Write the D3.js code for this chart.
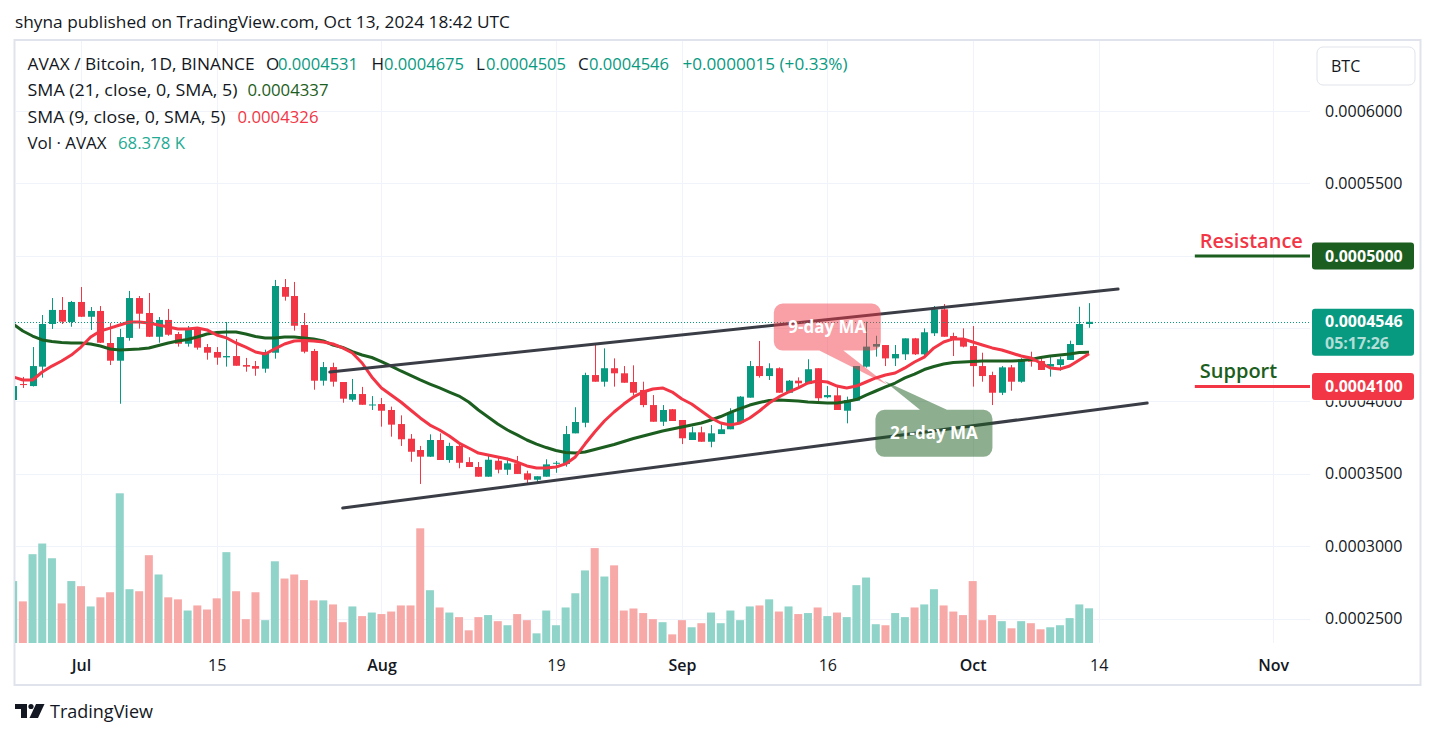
<!DOCTYPE html>
<html><head><meta charset="utf-8">
<script src="https://cdn.jsdelivr.net/npm/d3@7"></script>
<style>
body{margin:0;background:#fff;}
svg{display:block;font-family:"Open Sans",Roboto,sans-serif;}
</style>
</head><body>
<svg id="chart" width="1437" height="738"></svg>
<script>
// ---------- DATA (AVAX / BTC, 1D, BINANCE) ----------
const firstDay = "2024-06-24";
const lastDay = "2024-10-13";
const openPrices = [
4.007e-4,4.117e-4,4.103e-4,4.237e-4,4.531e-4,4.628e-4,4.545e-4,
4.683e-4,4.581e-4,4.621e-4,4.400e-4,4.278e-4,4.435e-4,4.710e-4,4.607e-4,4.443e-4,4.559e-4,4.462e-4,4.395e-4,4.497e-4,4.372e-4,4.338e-4,4.301e-4,4.310e-4,4.248e-4,4.241e-4,4.223e-4,4.333e-4,4.786e-4,4.724e-4,4.524e-4,4.345e-4,4.140e-4,4.234e-4,4.131e-4,4.009e-4,4.048e-4,3.970e-4,
3.979e-4,3.938e-4,3.841e-4,3.740e-4,3.662e-4,3.616e-4,3.731e-4,3.593e-4,3.690e-4,3.579e-4,3.545e-4,3.478e-4,3.588e-4,3.526e-4,3.570e-4,3.501e-4,3.457e-4,3.478e-4,3.568e-4,3.566e-4,3.777e-4,3.850e-4,4.179e-4,4.133e-4,4.226e-4,4.191e-4,4.131e-4,4.076e-4,3.972e-4,3.857e-4,3.943e-4,
3.869e-4,3.731e-4,3.784e-4,3.719e-4,3.772e-4,3.805e-4,3.850e-4,4.023e-4,4.241e-4,4.172e-4,4.226e-4,4.057e-4,4.140e-4,4.117e-4,4.226e-4,4.026e-4,4.039e-4,3.933e-4,4.002e-4,4.237e-4,4.375e-4,4.386e-4,4.294e-4,4.322e-4,4.432e-4,4.322e-4,4.467e-4,4.632e-4,4.448e-4,4.426e-4,
4.379e-4,4.241e-4,4.179e-4,4.057e-4,4.232e-4,4.133e-4,4.288e-4,4.276e-4,4.237e-4,4.248e-4,4.283e-4,4.386e-4,4.531e-4];
const highPrices = [
4.117e-4,4.166e-4,4.372e-4,4.593e-4,4.710e-4,4.717e-4,4.690e-4,
4.786e-4,4.648e-4,4.655e-4,4.538e-4,4.497e-4,4.759e-4,4.724e-4,4.745e-4,4.579e-4,4.635e-4,4.476e-4,4.517e-4,4.510e-4,4.393e-4,4.372e-4,4.545e-4,4.428e-4,4.297e-4,4.276e-4,4.354e-4,4.835e-4,4.841e-4,4.821e-4,4.607e-4,4.359e-4,4.269e-4,4.264e-4,4.131e-4,4.152e-4,4.097e-4,4.034e-4,
4.021e-4,3.961e-4,3.901e-4,3.772e-4,3.690e-4,3.770e-4,3.777e-4,3.712e-4,3.708e-4,3.612e-4,3.579e-4,3.634e-4,3.609e-4,3.609e-4,3.621e-4,3.519e-4,3.481e-4,3.598e-4,3.586e-4,3.828e-4,3.957e-4,4.195e-4,4.393e-4,4.363e-4,4.294e-4,4.241e-4,4.246e-4,4.133e-4,4.041e-4,3.972e-4,3.945e-4,
3.869e-4,3.823e-4,3.823e-4,3.834e-4,3.850e-4,3.950e-4,4.034e-4,4.276e-4,4.414e-4,4.260e-4,4.232e-4,4.145e-4,4.163e-4,4.288e-4,4.226e-4,4.103e-4,4.099e-4,4.030e-4,4.241e-4,4.547e-4,4.450e-4,4.386e-4,4.386e-4,4.432e-4,4.435e-4,4.501e-4,4.655e-4,4.669e-4,4.471e-4,4.501e-4,
4.517e-4,4.333e-4,4.202e-4,4.241e-4,4.248e-4,4.295e-4,4.340e-4,4.306e-4,4.306e-4,4.306e-4,4.416e-4,4.650e-4,4.675e-4];
const lowPrices = [
3.966e-4,4.090e-4,4.100e-4,4.161e-4,4.497e-4,4.531e-4,4.512e-4,
4.579e-4,4.490e-4,4.400e-4,4.248e-4,3.981e-4,4.416e-4,4.499e-4,4.441e-4,4.402e-4,4.450e-4,4.375e-4,4.375e-4,4.354e-4,4.285e-4,4.250e-4,4.237e-4,4.243e-4,4.202e-4,4.174e-4,4.195e-4,4.292e-4,4.692e-4,4.485e-4,4.329e-4,4.078e-4,4.106e-4,4.099e-4,3.988e-4,3.995e-4,3.974e-4,3.938e-4,
3.823e-4,3.754e-4,3.690e-4,3.581e-4,3.428e-4,3.614e-4,3.593e-4,3.574e-4,3.536e-4,3.545e-4,3.478e-4,3.478e-4,3.501e-4,3.490e-4,3.497e-4,3.421e-4,3.443e-4,3.478e-4,3.505e-4,3.547e-4,3.777e-4,3.819e-4,4.133e-4,4.099e-4,4.099e-4,4.126e-4,4.041e-4,3.957e-4,3.857e-4,3.828e-4,3.862e-4,
3.703e-4,3.731e-4,3.719e-4,3.681e-4,3.772e-4,3.805e-4,3.850e-4,4.023e-4,4.161e-4,4.145e-4,4.057e-4,4.057e-4,4.094e-4,4.117e-4,3.995e-4,4.019e-4,3.938e-4,3.846e-4,4.002e-4,4.230e-4,4.306e-4,4.241e-4,4.241e-4,4.283e-4,4.317e-4,4.306e-4,4.448e-4,4.443e-4,4.310e-4,4.370e-4,
4.099e-4,4.133e-4,3.972e-4,4.041e-4,4.071e-4,4.126e-4,4.237e-4,4.214e-4,4.168e-4,4.209e-4,4.283e-4,4.386e-4,4.505e-4];
const closePrices = [
4.103e-4,4.110e-4,4.241e-4,4.531e-4,4.628e-4,4.547e-4,4.683e-4,
4.581e-4,4.621e-4,4.402e-4,4.278e-4,4.441e-4,4.710e-4,4.602e-4,4.443e-4,4.559e-4,4.457e-4,4.395e-4,4.490e-4,4.368e-4,4.333e-4,4.299e-4,4.310e-4,4.243e-4,4.237e-4,4.223e-4,4.338e-4,4.793e-4,4.719e-4,4.519e-4,4.340e-4,4.140e-4,4.234e-4,4.133e-4,4.016e-4,4.048e-4,3.974e-4,3.976e-4,
3.933e-4,3.837e-4,3.736e-4,3.650e-4,3.616e-4,3.731e-4,3.593e-4,3.690e-4,3.574e-4,3.545e-4,3.478e-4,3.595e-4,3.526e-4,3.570e-4,3.497e-4,3.457e-4,3.481e-4,3.563e-4,3.574e-4,3.772e-4,3.855e-4,4.179e-4,4.133e-4,4.226e-4,4.191e-4,4.126e-4,4.057e-4,3.972e-4,3.857e-4,3.938e-4,3.862e-4,
3.743e-4,3.784e-4,3.719e-4,3.777e-4,3.805e-4,3.922e-4,4.030e-4,4.241e-4,4.172e-4,4.226e-4,4.057e-4,4.140e-4,4.122e-4,4.219e-4,4.019e-4,4.041e-4,3.938e-4,4.007e-4,4.241e-4,4.375e-4,4.393e-4,4.294e-4,4.324e-4,4.432e-4,4.322e-4,4.474e-4,4.632e-4,4.443e-4,4.421e-4,4.375e-4,
4.241e-4,4.172e-4,4.057e-4,4.232e-4,4.133e-4,4.288e-4,4.271e-4,4.214e-4,4.255e-4,4.288e-4,4.393e-4,4.531e-4,4.546e-4];
// volume in thousands of AVAX
const volumes = [
122,82,175,196,167,78,122,
112,72,90,100,295,106,102,173,135,90,86,64,74,66,88,179,102,47,100,45,161,127,135,124,84,84,76,41,72,53,60,
57,62,74,74,226,104,70,60,51,25,51,55,43,35,57,45,19,64,35,70,98,143,187,131,153,64,68,59,47,41,17,
45,31,39,60,39,64,45,72,74,86,62,72,57,59,70,53,60,51,114,129,37,35,59,51,70,76,106,74,62,55,
122,45,55,43,29,43,39,27,31,35,49,76,68.378];
const sma21 = [
4.531e-4,4.483e-4,4.448e-4,4.421e-4,4.410e-4,4.403e-4,4.400e-4,
4.400e-4,4.393e-4,4.379e-4,4.359e-4,4.352e-4,4.355e-4,4.359e-4,4.366e-4,4.383e-4,4.400e-4,4.414e-4,4.424e-4,4.441e-4,4.462e-4,4.472e-4,4.476e-4,4.476e-4,4.462e-4,4.445e-4,4.435e-4,4.435e-4,4.441e-4,4.441e-4,4.435e-4,4.428e-4,4.414e-4,4.386e-4,4.369e-4,4.341e-4,4.317e-4,4.300e-4,
4.272e-4,4.241e-4,4.207e-4,4.176e-4,4.145e-4,4.117e-4,4.090e-4,4.062e-4,4.034e-4,3.993e-4,3.938e-4,3.890e-4,3.841e-4,3.800e-4,3.766e-4,3.731e-4,3.703e-4,3.679e-4,3.659e-4,3.645e-4,3.641e-4,3.648e-4,3.666e-4,3.683e-4,3.700e-4,3.721e-4,3.741e-4,3.759e-4,3.776e-4,3.793e-4,3.807e-4,
3.821e-4,3.834e-4,3.848e-4,3.869e-4,3.893e-4,3.921e-4,3.948e-4,3.972e-4,3.990e-4,4.003e-4,4.007e-4,4.003e-4,4.000e-4,3.993e-4,3.990e-4,3.986e-4,3.986e-4,3.997e-4,4.010e-4,4.041e-4,4.069e-4,4.097e-4,4.124e-4,4.159e-4,4.186e-4,4.217e-4,4.238e-4,4.255e-4,4.266e-4,4.269e-4,
4.272e-4,4.276e-4,4.276e-4,4.276e-4,4.276e-4,4.279e-4,4.286e-4,4.300e-4,4.310e-4,4.317e-4,4.324e-4,4.334e-4,4.337e-4];
const sma9 = [
4.166e-4,4.145e-4,4.145e-4,4.200e-4,4.241e-4,4.276e-4,4.317e-4,
4.372e-4,4.441e-4,4.483e-4,4.503e-4,4.524e-4,4.545e-4,4.545e-4,4.538e-4,4.524e-4,4.510e-4,4.497e-4,4.497e-4,4.503e-4,4.490e-4,4.455e-4,4.435e-4,4.400e-4,4.372e-4,4.338e-4,4.324e-4,4.359e-4,4.393e-4,4.414e-4,4.417e-4,4.414e-4,4.407e-4,4.393e-4,4.366e-4,4.331e-4,4.262e-4,4.166e-4,
4.090e-4,4.041e-4,3.993e-4,3.938e-4,3.883e-4,3.834e-4,3.800e-4,3.759e-4,3.710e-4,3.676e-4,3.641e-4,3.628e-4,3.614e-4,3.600e-4,3.579e-4,3.552e-4,3.538e-4,3.538e-4,3.545e-4,3.566e-4,3.614e-4,3.703e-4,3.786e-4,3.862e-4,3.924e-4,3.979e-4,4.028e-4,4.062e-4,4.083e-4,4.090e-4,4.062e-4,
4.014e-4,3.979e-4,3.931e-4,3.883e-4,3.848e-4,3.834e-4,3.848e-4,3.883e-4,3.931e-4,3.986e-4,4.028e-4,4.062e-4,4.090e-4,4.124e-4,4.138e-4,4.131e-4,4.103e-4,4.090e-4,4.103e-4,4.131e-4,4.159e-4,4.179e-4,4.193e-4,4.228e-4,4.269e-4,4.303e-4,4.366e-4,4.407e-4,4.428e-4,4.428e-4,
4.407e-4,4.386e-4,4.366e-4,4.352e-4,4.331e-4,4.310e-4,4.297e-4,4.262e-4,4.228e-4,4.221e-4,4.241e-4,4.283e-4,4.326e-4];
const xTickDates = ["2024-07-01","2024-07-15","2024-08-01","2024-08-19","2024-09-01","2024-09-16","2024-10-01","2024-10-14","2024-11-01"];
const xTickLabels = ["Jul","15","Aug","19","Sep","16","Oct","14","Nov"];
const xTickIsMonth = [true,false,true,false,true,false,true,false,true];
const yTicks = [2.5e-4,3.0e-4,3.5e-4,4.0e-4,4.5e-4,5.0e-4,5.5e-4,6.0e-4];
// drawings
const channelUpper = [{t:"2024-07-26T16:00Z", p:4.200e-4},{t:"2024-10-16T00:00Z", p:4.772e-4}];
const channelLower = [{t:"2024-07-28T00:00Z", p:3.262e-4},{t:"2024-10-19T00:00Z", p:3.986e-4}];
const levelNames = ["Resistance","Support"];
const levelPrices = [5.0e-4, 4.1e-4];
const levelStart = "2024-10-23T22:00Z";
const calloutTexts = ["9-day MA","21-day MA"];
const calloutAt = [{t:"2024-09-16T00:00Z", p:4.510e-4},{t:"2024-09-27T00:00Z", p:3.777e-4}];
const calloutTip = [{t:"2024-09-22T06:00Z", p:4.110e-4},{t:"2024-09-21T21:00Z", p:4.138e-4}];
const lastPrice = 4.546e-4;
const countdown = "05:17:26";

// ---------- SETUP ----------
const svg = d3.select("#chart");
const W = 1437, H = 738;
const L = 15, R = 1310, T = 41, VB = 643;
const TEAL = "#089981", RED = "#f23645", DKGREEN = "#1b5e20", TXT = "#131722";
const DAY = 864e5;
const parse = d3.isoParse;
const days = d3.utcDay.range(parse(firstDay), d3.utcDay.offset(parse(lastDay), 1));
const t0 = parse(firstDay).getTime();

const x = d3.scaleUtc().domain([new Date(t0 + 0.19*DAY), new Date(t0 + 133.8*DAY)]).range([L, R]);
const y = d3.scaleLinear().domain([2e-4, 6e-4]).range([691, 111]);
const vy = d3.scaleLinear().domain([0, 300]).range([VB, VB - 300*34.7/68.378]);

const bars = days.map((d,i)=>({d, o:openPrices[i], h:highPrices[i], l:lowPrices[i], c:closePrices[i], v:volumes[i], s21:sma21[i], s9:sma9[i]}));

svg.append("rect").attr("width",W).attr("height",H).attr("fill","#fff");

// header
svg.append("text").attr("x",15).attr("y",28).attr("font-size",17).attr("fill",TXT)
  .attr("textLength",495).attr("lengthAdjust","spacingAndGlyphs")
  .text("shyna published on TradingView.com, Oct 13, 2024 18:42 UTC");

// frame
svg.append("rect").attr("x",14.5).attr("y",40).attr("width",1406).attr("height",645)
  .attr("fill","none").attr("stroke","#e0e3eb").attr("stroke-width",2);

svg.append("clipPath").attr("id","plot").append("rect").attr("x",L).attr("y",T).attr("width",R-L).attr("height",VB-T);

// grid
const grid = svg.append("g").attr("stroke","#f0f3fa").attr("stroke-width",1);
grid.selectAll(".gx").data(xTickDates).join("line")
  .attr("x1",d=>Math.round(x(parse(d)))+0.5).attr("x2",d=>Math.round(x(parse(d)))+0.5)
  .attr("y1",T).attr("y2",VB);
grid.selectAll(".gy").data(yTicks).join("line")
  .attr("x1",L).attr("x2",R).attr("y1",d=>Math.round(y(d))+0.5).attr("y2",d=>Math.round(y(d))+0.5);

const plot = svg.append("g").attr("clip-path","url(#plot)");

// volume
plot.append("g").selectAll("rect").data(bars).join("rect")
  .attr("x",b=>x(b.d)-4).attr("width",8)
  .attr("y",b=>vy(b.v)).attr("height",b=>VB - vy(b.v))
  .attr("fill",b=>b.c>=b.o ? "#8fd3c9" : "#f7a9a8");

// candles
const cg = plot.append("g");
cg.selectAll("line").data(bars).join("line")
  .attr("x1",b=>Math.round(x(b.d))+0.5).attr("x2",b=>Math.round(x(b.d))+0.5)
  .attr("y1",b=>y(b.h)).attr("y2",b=>y(b.l))
  .attr("stroke",b=>b.c>=b.o?TEAL:RED).attr("stroke-width",1);
cg.selectAll("rect").data(bars).join("rect")
  .attr("x",b=>Math.round(x(b.d))-3).attr("width",7)
  .attr("y",b=>y(Math.max(b.o,b.c)))
  .attr("height",b=>Math.max(1, Math.abs(y(b.o)-y(b.c))))
  .attr("fill",b=>b.c>=b.o?TEAL:RED);

// SMAs
const line21 = d3.line().x(b=>x(b.d)).y(b=>y(b.s21));
const line9 = d3.line().x(b=>x(b.d)).y(b=>y(b.s9));
plot.append("path").attr("d",line21(bars)).attr("fill","none").attr("stroke",DKGREEN).attr("stroke-width",3).attr("stroke-linejoin","round");
plot.append("path").attr("d",line9(bars)).attr("fill","none").attr("stroke",RED).attr("stroke-width",3).attr("stroke-linejoin","round");

// channel
[channelUpper, channelLower].forEach(seg=>{
  plot.append("line")
    .attr("x1",x(parse(seg[0].t))).attr("y1",y(seg[0].p))
    .attr("x2",x(parse(seg[1].t))).attr("y2",y(seg[1].p))
    .attr("stroke","#3a3d45").attr("stroke-width",3).attr("stroke-linecap","round");
});

// current price dotted line
plot.append("line").attr("x1",L).attr("x2",R).attr("y1",Math.round(y(lastPrice))+0.5).attr("y2",Math.round(y(lastPrice))+0.5)
  .attr("stroke",TEAL).attr("stroke-width",1).attr("stroke-dasharray","1,2");

// support / resistance
const levelColors = [DKGREEN, RED];
const levelTextColors = [RED, DKGREEN];
levelPrices.forEach((p,i)=>{
  plot.append("line").attr("x1",x(parse(levelStart))).attr("x2",R).attr("y1",y(p)).attr("y2",y(p))
    .attr("stroke",levelColors[i]).attr("stroke-width",3);
  svg.append("text").attr("x",x(parse(levelStart))+5).attr("y",y(p)-(i===0?8:9))
    .attr("font-size",20).attr("font-weight",600).attr("fill",levelTextColors[i]).text(levelNames[i]);
});

// callouts
function calloutPath(x0,y0,w,h,r,tip,b1,b2,side){
  const x1=x0+w, y1=y0+h;
  let p = `M${x0+r},${y0}`;
  if(side==="top") p += `H${b1}L${tip[0]},${tip[1]}L${b2},${y0}`;
  p += `H${x1-r}A${r},${r} 0 0 1 ${x1},${y0+r}V${y1-r}A${r},${r} 0 0 1 ${x1-r},${y1}`;
  if(side==="bottom") p += `H${b2}L${tip[0]},${tip[1]}L${b1},${y1}`;
  p += `H${x0+r}A${r},${r} 0 0 1 ${x0},${y1-r}V${y0+r}A${r},${r} 0 0 1 ${x0+r},${y0}Z`;
  return p;
}
const calloutFill = ["rgba(242,54,69,0.47)","rgba(27,94,32,0.5)"];
const calloutW = [107,117], calloutH = 47;
calloutTexts.forEach((t,i)=>{
  const cx = x(parse(calloutAt[i].t)), cy = y(calloutAt[i].p);
  const tip = [x(parse(calloutTip[i].t)), y(calloutTip[i].p)];
  const x0 = cx - calloutW[i]/2, y0 = cy - calloutH/2;
  const side = i===0 ? "bottom" : "top";
  const b1 = i===0 ? cx-8 : cx-14, b2 = i===0 ? cx+16 : cx+13;
  svg.append("path").attr("d",calloutPath(x0,y0,calloutW[i],calloutH,9,tip,b1,b2,side)).attr("fill",calloutFill[i]);
  svg.append("text").attr("x",cx).attr("y",cy).attr("dy","0.35em").attr("text-anchor","middle")
    .attr("font-size",17).attr("font-weight",700).attr("fill","#fff").text(t);
});

// x axis
const xAxis = d3.axisBottom(x).tickValues(xTickDates.map(parse)).tickSize(0).tickPadding(0)
  .tickFormat((d,i)=>xTickLabels[i]);
const xg = svg.append("g").attr("transform",`translate(0,${VB})`).call(xAxis);
xg.select(".domain").remove();
xg.selectAll("text").attr("y",28).attr("dy",0).attr("font-family","'Open Sans',Roboto,sans-serif")
  .attr("font-size",16).attr("fill",TXT).attr("font-weight",(d,i)=>xTickIsMonth[i]?600:400);

// y axis: labels that sit under a price box are hidden (as in the reference); 0.0004000 only peeks out below the support box
const hiddenTicks = [4.5e-4, 5.0e-4];
const shownTicks = yTicks.filter(v=>!hiddenTicks.some(h=>Math.abs(h-v)<1e-9));
svg.append("clipPath").attr("id","yclip").append("rect").attr("x",R).attr("y",0).attr("width",W-R).attr("height",H);
svg.append("clipPath").attr("id","belowSupport").append("rect").attr("x",R).attr("y",y(levelPrices[1])+13.5).attr("width",W-R).attr("height",40);
const yAxis = d3.axisRight(y).tickValues(shownTicks).tickSize(0).tickPadding(15).tickFormat(d3.format(".7f"));
const yg = svg.append("g").attr("transform",`translate(${R},0)`).call(yAxis);
yg.select(".domain").remove();
yg.selectAll("text").attr("font-family","'Open Sans',Roboto,sans-serif").attr("font-size",16).attr("fill",TXT);
yg.selectAll(".tick").filter(d=>Math.abs(d-4e-4)<1e-9).attr("clip-path","url(#belowSupportLocal)");
// local clip for the partially covered tick (coordinates relative to the tick group)
const tick4 = yg.selectAll(".tick").filter(d=>Math.abs(d-4e-4)<1e-9);
svg.append("clipPath").attr("id","belowSupportLocal").append("rect")
  .attr("x",-10).attr("y",(y(levelPrices[1])+13.5)-y(4e-4)).attr("width",W-R+20).attr("height",40);

// axis price boxes
function priceBox(p, color, h1, h2){
  const yy = y(p);
  svg.append("rect").attr("x",1312).attr("y",yy-h1).attr("width",102).attr("height",h1+h2).attr("rx",3).attr("fill",color);
  svg.append("text").attr("x",1325).attr("y",yy).attr("dy","0.35em").attr("font-size",16).attr("font-weight",700)
    .attr("fill","#fff").text(d3.format(".7f")(p));
}
priceBox(levelPrices[0], DKGREEN, 13.5, 13.5);
priceBox(lastPrice, TEAL, 13, 34);
svg.append("text").attr("x",1325).attr("y",y(lastPrice)+22).attr("dy","0.35em").attr("font-size",16).attr("font-weight",700)
  .attr("fill","rgba(255,255,255,0.7)").text(countdown);
priceBox(levelPrices[1], RED, 13.5, 13.5);

// BTC button
svg.append("rect").attr("x",1317).attr("y",47).attr("width",98).attr("height",38).attr("rx",6)
  .attr("fill","#fff").attr("stroke","#e0e3eb").attr("stroke-width",1);
svg.append("text").attr("x",1331).attr("y",66).attr("dy","0.35em").attr("font-size",16).attr("fill",TXT).text("BTC");

// legend
const legend = svg.append("g").attr("font-size",17);
function seg(xx, yy, t, c, w){
  const el = legend.append("text").attr("x",xx).attr("y",yy).attr("fill",c).text(t);
  if(w) el.attr("textLength",w).attr("lengthAdjust","spacingAndGlyphs");
}
const lastIdx = bars.length-1;
const fmt7 = d3.format(".7f");
seg(27.5,69.5,"AVAX / Bitcoin, 1D, BINANCE",TXT,227);
seg(266,69.5,"O",TXT); seg(278,69.5,fmt7(openPrices[lastIdx]),TEAL,80);
seg(371.5,69.5,"H",TXT); seg(384,69.5,fmt7(highPrices[lastIdx]),TEAL,80);
seg(476,69.5,"L",TXT); seg(486,69.5,fmt7(lowPrices[lastIdx]),TEAL,80);
seg(578,69.5,"C",TXT); seg(589,69.5,fmt7(closePrices[lastIdx]),TEAL,80);
seg(682.5,69.5,"+0.0000015 (+0.33%)",TEAL,165);
seg(27.5,96,"SMA (21, close, 0, SMA, 5)",TXT,210); seg(247.5,96,fmt7(sma21[lastIdx]),DKGREEN,81);
seg(27.5,122.5,"SMA (9, close, 0, SMA, 5)",TXT,198); seg(237.5,122.5,fmt7(sma9[lastIdx]),RED,81);
seg(27.5,149,"Vol · AVAX",TXT,79); seg(118,149,d3.format(".3f")(volumes[lastIdx])+" K","#22ab94",67);

// TradingView logo
const logo = svg.append("g").attr("fill",TXT);
logo.append("path").attr("d","M15,704H27V718H21V709H15Z");
logo.append("circle").attr("cx",31).attr("cy",706.5).attr("r",2.6);
logo.append("path").attr("d","M36,704H44.5L38,718H29.5Z");
svg.append("text").attr("x",50).attr("y",718).attr("font-size",18).attr("fill",TXT).text("TradingView");
</script>
</body></html>
